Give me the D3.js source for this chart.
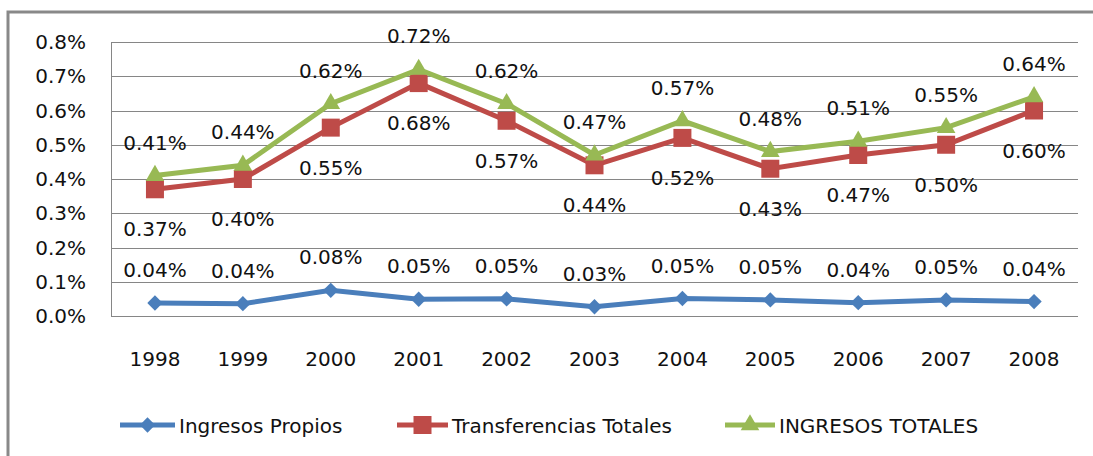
<!DOCTYPE html>
<html>
<head>
<meta charset="utf-8">
<script src="https://cdn.jsdelivr.net/npm/d3@7"></script>
<style>
  body { margin: 0; background: #fff; }
  text { font-family: "DejaVu Sans", sans-serif; font-size: 20px; fill: #111; }
</style>
</head>
<body>
<div id="chart"></div>
<script>
const years = ["1998", "1999", "2000", "2001", "2002", "2003", "2004", "2005", "2006", "2007", "2008"];
const propios = [0.038, 0.036, 0.075, 0.049, 0.050, 0.027, 0.051, 0.047, 0.039, 0.047, 0.042];
const propiosLabels = ["0.04%", "0.04%", "0.08%", "0.05%", "0.05%", "0.03%", "0.05%", "0.05%", "0.04%", "0.05%", "0.04%"];
const transferencias = [0.37, 0.40, 0.55, 0.68, 0.57, 0.44, 0.52, 0.43, 0.47, 0.50, 0.60];
const totales = [0.41, 0.44, 0.62, 0.72, 0.62, 0.47, 0.57, 0.48, 0.51, 0.55, 0.64];
const yTicks = [0, 0.1, 0.2, 0.3, 0.4, 0.5, 0.6, 0.7, 0.8];

const width = 1093, height = 456;
const plotLeft = 111, plotRight = 1078, plotTop = 42, plotBottom = 316;

const svg = d3.select('#chart').append('svg')
  .attr('width', width)
  .attr('height', height);

// outer frame (cropped on right and bottom)
svg.append('rect')
  .attr('x', 8).attr('y', 12)
  .attr('width', width + 20).attr('height', height + 20)
  .attr('fill', 'none')
  .attr('stroke', '#898989')
  .attr('stroke-width', 3);

const x = d3.scaleBand().domain(years).range([plotLeft, plotRight]);
const y = d3.scaleLinear().domain([0, 0.8]).range([plotBottom, plotTop]);
const cx = d => x(d) + x.bandwidth() / 2;

// gridlines
svg.append('g').selectAll('line')
  .data(yTicks)
  .enter().append('line')
  .attr('x1', plotLeft).attr('x2', plotRight)
  .attr('y1', d => Math.round(y(d)) + 0.5)
  .attr('y2', d => Math.round(y(d)) + 0.5)
  .attr('stroke', '#868686');

svg.append('line')
  .attr('x1', plotLeft + 0.5).attr('x2', plotLeft + 0.5)
  .attr('y1', y(0.8)).attr('y2', y(0))
  .attr('stroke', '#868686');

// y tick labels
svg.append('g').selectAll('text')
  .data(yTicks)
  .enter().append('text')
  .attr('x', 86)
  .attr('y', d => y(d) + 7)
  .attr('text-anchor', 'end')
  .text(d => d.toFixed(1) + '%');

// x labels
svg.append('g').selectAll('text')
  .data(years)
  .enter().append('text')
  .attr('x', d => cx(d))
  .attr('y', 366)
  .attr('text-anchor', 'middle')
  .text(d => d);

const series = [
  { name: 'Ingresos Propios', values: propios, color: '#4A7EBB', symbol: d3.symbolDiamond2, size: 150, labels: propiosLabels, above: true },
  { name: 'Transferencias Totales', values: transferencias, color: '#BE4B48', symbol: d3.symbolSquare, size: 324, above: false },
  { name: 'INGRESOS TOTALES', values: totales, color: '#98B954', symbol: d3.symbolTriangle, size: 150, above: true }
];

const line = d3.line()
  .x((d, i) => cx(years[i]))
  .y(d => y(d));

series.forEach(s => {
  svg.append('path')
    .attr('d', line(s.values))
    .attr('fill', 'none')
    .attr('stroke', s.color)
    .attr('stroke-width', 5);

  svg.append('g').selectAll('path')
    .data(s.values)
    .enter().append('path')
    .attr('transform', (d, i) => `translate(${cx(years[i])},${y(d)})`)
    .attr('d', d3.symbol().type(s.symbol).size(s.size))
    .attr('fill', s.color);
});

series.forEach(s => {
  svg.append('g').selectAll('text')
    .data(s.values)
    .enter().append('text')
    .attr('x', (d, i) => cx(years[i]))
    .attr('y', d => s.above ? y(d) - 26 : y(d) + 47)
    .attr('text-anchor', 'middle')
    .text((d, i) => s.labels ? s.labels[i] : d.toFixed(2) + '%');
});

// legend
const legendX = [120, 397, 725];
const legendLen = [55, 51, 50];
series.forEach((s, i) => {
  const g = svg.append('g').attr('transform', `translate(${legendX[i]},425)`);
  g.append('line')
    .attr('x1', 0).attr('x2', legendLen[i])
    .attr('stroke', s.color)
    .attr('stroke-width', 5);
  g.append('path')
    .attr('transform', `translate(${legendLen[i] / 2},0)`)
    .attr('d', d3.symbol().type(s.symbol).size(s.size))
    .attr('fill', s.color);
  g.append('text')
    .attr('x', legendLen[i] + 4)
    .attr('y', 8)
    .text(s.name);
});
</script>
</body>
</html>
